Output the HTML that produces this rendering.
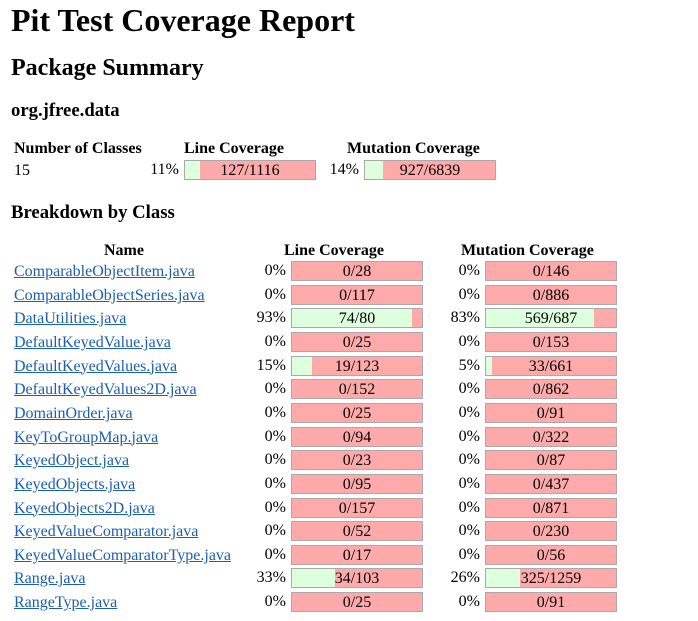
<!DOCTYPE html>
<html><head><meta charset="utf-8">
<style>
body{margin:0;width:698px;height:621px;background:#fff;font-family:"Liberation Serif",serif;color:#000;position:relative;overflow:hidden}
.a{position:absolute;white-space:nowrap}
h1,h2,h3{margin:0;font-weight:bold}
.th{font-weight:bold;font-size:16px}
.bar{position:absolute;width:130px;height:18px;border:1px solid #aaa;background:#faa;font-size:16px;line-height:19px;text-align:center}
.bar .g{position:absolute;left:0;top:0;height:18px;background:#dfd}
.bar span{position:relative}
.pct{position:absolute;font-size:16px;text-align:right;width:50px}
a{color:#1a5fb4;text-decoration:underline;font-size:16px}
</style></head><body>
<h1 class="a" style="left:11px;top:2px;font-size:32px">Pit Test Coverage Report</h1>
<h2 class="a" style="left:11px;top:55px;font-size:24px">Package Summary</h2>
<h3 class="a" style="left:11px;top:100px;font-size:18.7px">org.jfree.data</h3>
<div class="a th" style="left:14px;top:140px">Number of Classes</div>
<div class="a th" style="left:184px;top:140px">Line Coverage</div>
<div class="a th" style="left:347px;top:140px">Mutation Coverage</div>
<div class="a" style="left:14px;top:162px;font-size:16px">15</div>
<div id="summary"></div>
<h3 class="a" style="left:11px;top:202px;font-size:18.7px">Breakdown by Class</h3>
<div class="a th" style="left:104px;top:242px">Name</div>
<div class="a th" style="left:284px;top:242px">Line Coverage</div>
<div class="a th" style="left:461px;top:242px">Mutation Coverage</div>
<div id="rows"></div>
<script>
const classNames=["ComparableObjectItem.java","ComparableObjectSeries.java","DataUtilities.java","DefaultKeyedValue.java","DefaultKeyedValues.java","DefaultKeyedValues2D.java","DomainOrder.java","KeyToGroupMap.java","KeyedObject.java","KeyedObjects.java","KeyedObjects2D.java","KeyedValueComparator.java","KeyedValueComparatorType.java","Range.java","RangeType.java"];
const lineCovered=[0,0,74,0,19,0,0,0,0,0,0,0,0,34,0];
const lineTotal=[28,117,80,25,123,152,25,94,23,95,157,52,17,103,25];
const mutCovered=[0,0,569,0,33,0,0,0,0,0,0,0,0,325,0];
const mutTotal=[146,886,687,153,661,862,91,322,87,437,871,230,56,1259,91];
const summaryCovered=[127,927];
const summaryTotal=[1116,6839];

function bar(parent,x,y,c,t,name){
  const p=Math.round(c/t*100);
  const pc=document.createElement('div');pc.className='pct';
  pc.style.left=(x-55)+'px';pc.style.top=(y+1)+'px';pc.textContent=p+'%';
  
  
  parent.appendChild(pc);
  const b=document.createElement('div');b.className='bar';b.style.left=x+'px';b.style.top=y+'px';
  
  
  const g=document.createElement('div');g.className='g';g.style.width=(130*c/t)+'px';
  
  
  const s=document.createElement('span');s.textContent=c+'/'+t;
  b.appendChild(g);b.appendChild(s);parent.appendChild(b);
}
const sm=document.getElementById('summary');
bar(sm,184,160,summaryCovered[0],summaryTotal[0],'summary-line-coverage');
bar(sm,364,160,summaryCovered[1],summaryTotal[1],'summary-mutation-coverage');
const rows=document.getElementById('rows');
classNames.forEach((n,i)=>{
  const y=261+i*23.65;
  const a=document.createElement('a');a.className='a';a.href='#';a.textContent=n;
  a.style.left='14px';a.style.top=(y+2)+'px';
  
  
  rows.appendChild(a);
  bar(rows,291,Math.round(y),lineCovered[i],lineTotal[i],'line-coverage-'+i);
  bar(rows,485,Math.round(y),mutCovered[i],mutTotal[i],'mutation-coverage-'+i);
});
</script>
</body></html>
